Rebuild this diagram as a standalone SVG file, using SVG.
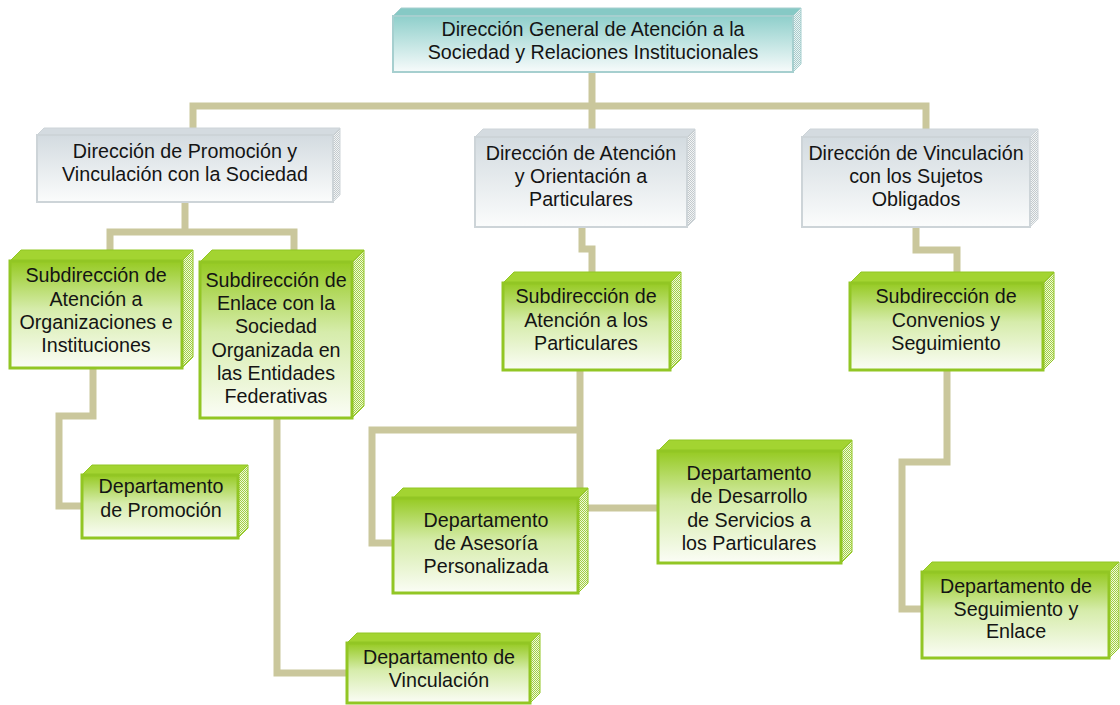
<svg xmlns="http://www.w3.org/2000/svg" width="1120" height="705" viewBox="0 0 1120 705">
<defs>
<linearGradient id="gTeal" x1="0" y1="0" x2="0" y2="1"><stop offset="0" stop-color="#8fcfcb"/><stop offset="1" stop-color="#f7fbfb"/></linearGradient>
<linearGradient id="gGray" x1="0" y1="0" x2="0" y2="1"><stop offset="0" stop-color="#d3dbe0"/><stop offset="1" stop-color="#fbfcfc"/></linearGradient>
<linearGradient id="gGreen" x1="0" y1="0" x2="0" y2="1"><stop offset="0" stop-color="#96ca22"/><stop offset="0.45" stop-color="#d6ecab"/><stop offset="1" stop-color="#fbfdf6"/></linearGradient>
<pattern id="pGreen" width="2" height="2" patternUnits="userSpaceOnUse"><rect width="2" height="2" fill="#eef7dc"/><rect width="1" height="1" fill="#a3d042"/><rect x="1" y="1" width="1" height="1" fill="#a3d042"/></pattern>
<pattern id="pGray" width="2" height="2" patternUnits="userSpaceOnUse"><rect width="2" height="2" fill="#f2f4f5"/><rect width="1" height="1" fill="#c3cacd"/><rect x="1" y="1" width="1" height="1" fill="#c3cacd"/></pattern>
<pattern id="pTeal" width="2" height="2" patternUnits="userSpaceOnUse"><rect width="2" height="2" fill="#eaf4f4"/><rect width="1" height="1" fill="#a8cbcb"/><rect x="1" y="1" width="1" height="1" fill="#a8cbcb"/></pattern>
</defs>
<style>
text{font-family:"Liberation Sans",Arial,sans-serif;font-size:19.7px;fill:#141414;text-anchor:middle}
.c{fill:none;stroke:#cac79c;stroke-width:7;stroke-linejoin:miter;stroke-linecap:butt}
.gf{fill:url(#gGreen);stroke:#92c624;stroke-width:3}
.gt{fill:#a3d431;stroke:#92c624;stroke-width:1}
.gs{fill:url(#pGreen);stroke:#92c624;stroke-width:1}
.yf{fill:url(#gGray);stroke:#cdd4d8;stroke-width:2}
.yt{fill:#d4dbe0;stroke:#cdd4d8;stroke-width:1}
.ys{fill:url(#pGray);stroke:#cdd4d8;stroke-width:1}
.tf{fill:url(#gTeal);stroke:#a6cfcf;stroke-width:2}
.tt{fill:#86c9c5;stroke:#a6cfcf;stroke-width:1}
.ts{fill:url(#pTeal);stroke:#a6cfcf;stroke-width:1}
</style>
<rect width="1120" height="705" fill="#ffffff"/>
<g id="connectors">
<path class="c" d="M592,72 V129"/>
<path class="c" d="M193,128 V106 H926 V129"/>
<path class="c" d="M185,202 V232"/>
<path class="c" d="M110,250 V232 H294 V250"/>
<path class="c" d="M93,368 V416 H59 V506 H82"/>
<path class="c" d="M277,418 V673 H347"/>
<path class="c" d="M582,227 V249 H592 V272"/>
<path class="c" d="M580,370 V488"/>
<path class="c" d="M580,430 H372 V543 H393"/>
<path class="c" d="M588,508 H658"/>
<path class="c" d="M916,227 V250 H957 V273"/>
<path class="c" d="M947,370 V462 H902 V609 H922"/>
</g>
<g id="n-general">
<polygon class="tt" points="393,16 401,8 801,8 793,16"/>
<polygon class="ts" points="793,16 801,8 801,64 793,72"/>
<rect class="tf" x="393" y="16" width="400" height="56"/>
<text><tspan x="593" y="36">Dirección General de Atención a la</tspan><tspan x="593" y="59">Sociedad y Relaciones Institucionales</tspan></text>
</g>
<g id="n-promocion-vinculacion">
<polygon class="yt" points="37,135 44,128 340,128 333,135"/>
<polygon class="ys" points="333,135 340,128 340,195 333,202"/>
<rect class="yf" x="37" y="135" width="296" height="67"/>
<text><tspan x="185" y="158">Dirección de Promoción y</tspan><tspan x="185" y="181">Vinculación con la Sociedad</tspan></text>
</g>
<g id="n-atencion-orientacion">
<polygon class="yt" points="475,137 483,129 695,129 687,137"/>
<polygon class="ys" points="687,137 695,129 695,219 687,227"/>
<rect class="yf" x="475" y="137" width="212" height="90"/>
<text><tspan x="581" y="160">Dirección de Atención</tspan><tspan x="581" y="183">y Orientación a</tspan><tspan x="581" y="206">Particulares</tspan></text>
</g>
<g id="n-vinculacion-sujetos">
<polygon class="yt" points="802,137 810,129 1038,129 1030,137"/>
<polygon class="ys" points="1030,137 1038,129 1038,219 1030,227"/>
<rect class="yf" x="802" y="137" width="228" height="90"/>
<text><tspan x="916" y="160">Dirección de Vinculación</tspan><tspan x="916" y="183">con los Sujetos</tspan><tspan x="916" y="206">Obligados</tspan></text>
</g>
<g id="n-sub-organizaciones">
<polygon class="gt" points="10,261 21,250 193,250 182,261"/>
<polygon class="gs" points="182,261 193,250 193,357 182,368"/>
<rect class="gf" x="10" y="261" width="172" height="107"/>
<text><tspan x="96" y="282">Subdirección de</tspan><tspan x="96" y="306">Atención a</tspan><tspan x="96" y="329">Organizaciones e</tspan><tspan x="96" y="352">Instituciones</tspan></text>
</g>
<g id="n-sub-enlace">
<polygon class="gt" points="200,262 212,250 364,250 352,262"/>
<polygon class="gs" points="352,262 364,250 364,406 352,418"/>
<rect class="gf" x="200" y="262" width="152" height="156"/>
<text><tspan x="276" y="287">Subdirección de</tspan><tspan x="276" y="310">Enlace con la</tspan><tspan x="276" y="333">Sociedad</tspan><tspan x="276" y="357">Organizada en</tspan><tspan x="276" y="380">las Entidades</tspan><tspan x="276" y="403">Federativas</tspan></text>
</g>
<g id="n-sub-particulares">
<polygon class="gt" points="503,283 514,272 681,272 670,283"/>
<polygon class="gs" points="670,283 681,272 681,359 670,370"/>
<rect class="gf" x="503" y="283" width="167" height="87"/>
<text><tspan x="586" y="303">Subdirección de</tspan><tspan x="586" y="327">Atención a los</tspan><tspan x="586" y="350">Particulares</tspan></text>
</g>
<g id="n-sub-convenios">
<polygon class="gt" points="850,283 861,272 1054,272 1043,283"/>
<polygon class="gs" points="1043,283 1054,272 1054,359 1043,370"/>
<rect class="gf" x="850" y="283" width="193" height="87"/>
<text><tspan x="946" y="303">Subdirección de</tspan><tspan x="946" y="327">Convenios y</tspan><tspan x="946" y="350">Seguimiento</tspan></text>
</g>
<g id="n-depto-promocion">
<polygon class="gt" points="82,475 92,465 248,465 238,475"/>
<polygon class="gs" points="238,475 248,465 248,528 238,538"/>
<rect class="gf" x="82" y="475" width="156" height="63"/>
<text><tspan x="161" y="493">Departamento</tspan><tspan x="161" y="517">de Promoción</tspan></text>
</g>
<g id="n-depto-vinculacion">
<polygon class="gt" points="347,643 357,633 540,633 530,643"/>
<polygon class="gs" points="530,643 540,633 540,693 530,703"/>
<rect class="gf" x="347" y="643" width="183" height="60"/>
<text><tspan x="439" y="664">Departamento de</tspan><tspan x="439" y="687">Vinculación</tspan></text>
</g>
<g id="n-depto-asesoria">
<polygon class="gt" points="393,498 403,488 588,488 578,498"/>
<polygon class="gs" points="578,498 588,488 588,583 578,593"/>
<rect class="gf" x="393" y="498" width="185" height="95"/>
<text><tspan x="486" y="527">Departamento</tspan><tspan x="486" y="550">de Asesoría</tspan><tspan x="486" y="573">Personalizada</tspan></text>
</g>
<g id="n-depto-desarrollo">
<polygon class="gt" points="658,451 669,440 852,440 841,451"/>
<polygon class="gs" points="841,451 852,440 852,552 841,563"/>
<rect class="gf" x="658" y="451" width="183" height="112"/>
<text><tspan x="749" y="480">Departamento</tspan><tspan x="749" y="503">de Desarrollo</tspan><tspan x="749" y="527">de Servicios a</tspan><tspan x="749" y="550">los Particulares</tspan></text>
</g>
<g id="n-depto-seguimiento">
<polygon class="gt" points="922,572 932,562 1119,562 1109,572"/>
<polygon class="gs" points="1109,572 1119,562 1119,648 1109,658"/>
<rect class="gf" x="922" y="572" width="187" height="86"/>
<text><tspan x="1016" y="593">Departamento de</tspan><tspan x="1016" y="616">Seguimiento y</tspan><tspan x="1016" y="638">Enlace</tspan></text>
</g>
</svg>
